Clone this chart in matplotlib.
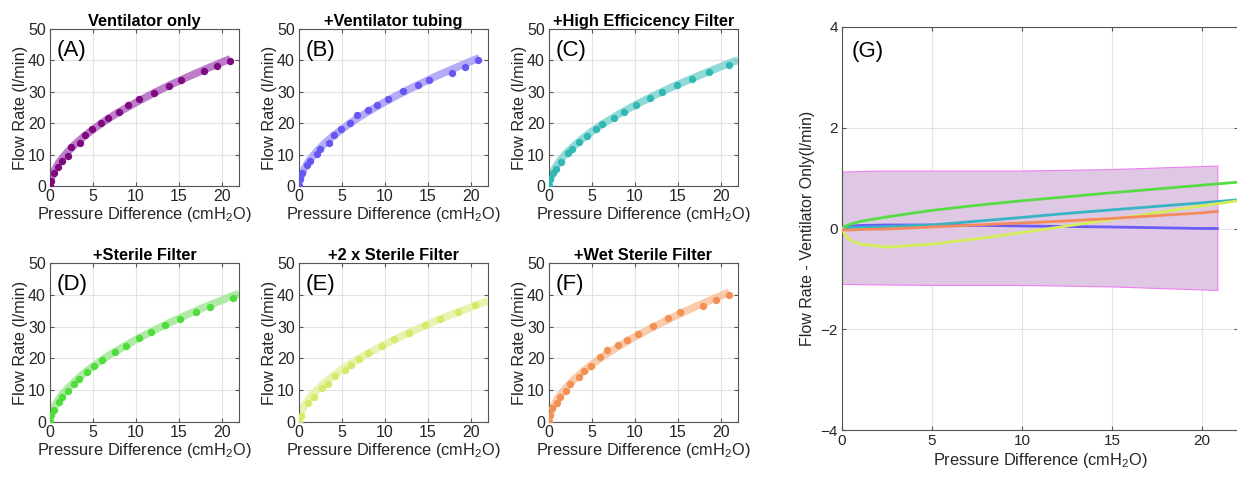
import numpy as np
import matplotlib
matplotlib.use("Agg")
import matplotlib.pyplot as plt

plt.rcParams['font.family'] = ['Liberation Sans', 'DejaVu Sans']
plt.rcParams['mathtext.default'] = 'regular'

# measured points, one list pair per panel
titles = ["Ventilator only", "+Ventilator tubing", "+High Efficicency Filter",
          "+Sterile Filter", "+2 x Sterile Filter", "+Wet Sterile Filter"]
tags = ["(A)", "(B)", "(C)", "(D)", "(E)", "(F)"]

xA = [0, 0.1, 0.46, 0.97, 1.35, 2.1, 2.5, 3.5, 4.1, 4.9, 5.9, 6.8, 8.0, 9.1, 10.4, 12.1, 13.8, 15.2, 17.9, 19.4, 20.9]
yA = [0, 1.6, 4.1, 6.2, 8.0, 9.6, 12.4, 13.6, 16.2, 18.2, 20.0, 21.8, 23.7, 25.7, 27.6, 29.7, 32.0, 33.7, 36.6, 38.2, 39.8]
xB = [0, 0.1, 0.4, 0.9, 1.3, 2.1, 2.5, 3.5, 4.1, 4.9, 5.9, 6.8, 8.0, 9.1, 10.4, 12.1, 13.8, 15.1, 17.8, 19.3, 20.8]
yB = [0, 2.3, 4.1, 6.6, 8.1, 10.3, 11.9, 13.8, 16.1, 18.3, 20.1, 22.6, 24.3, 25.8, 27.8, 30.3, 32.2, 33.8, 36.0, 38.0, 40.1]
xC = [0, 0.1, 0.5, 0.8, 1.4, 2.2, 2.7, 3.5, 4.4, 5.5, 6.2, 7.6, 8.7, 10.1, 11.8, 13.2, 14.9, 16.6, 18.6, 21.0]
yC = [0, 2.1, 4.2, 5.5, 7.7, 10.5, 11.9, 14.1, 15.9, 18.1, 19.7, 21.8, 23.7, 25.8, 28.0, 29.8, 32.1, 34.2, 36.2, 38.6]
xD = [0, 0.1, 0.5, 1.0, 1.4, 2.1, 2.8, 3.4, 4.3, 5.1, 6.1, 7.6, 8.8, 10.4, 11.8, 13.4, 15.1, 17.0, 18.6, 21.3]
yD = [0, 2.2, 3.9, 6.3, 7.8, 9.6, 11.9, 13.6, 15.8, 17.7, 19.6, 21.9, 23.8, 26.5, 28.4, 30.4, 32.3, 34.5, 36.3, 38.9]
xE = [0, 0.2, 1.1, 1.7, 2.7, 3.4, 4.2, 5.3, 6.1, 7.0, 8.0, 9.7, 11.1, 12.8, 14.7, 16.4, 18.5, 20.5]
yE = [0, 1.9, 5.9, 8.0, 10.6, 12.1, 14.4, 16.5, 18.0, 19.8, 21.7, 24.0, 26.0, 27.9, 30.5, 32.5, 34.6, 36.7]
xF = [0, 0.1, 0.4, 0.9, 1.3, 2.0, 2.4, 3.5, 4.1, 4.9, 5.9, 6.8, 8.0, 9.1, 10.4, 12.1, 13.9, 15.2, 17.9, 19.4, 20.9]
yF = [0, 2.2, 4.4, 6.1, 8.0, 9.7, 12.1, 14.0, 15.9, 17.7, 20.4, 22.5, 24.2, 25.9, 27.7, 30.1, 32.6, 34.7, 36.6, 38.5, 39.9]

# fitted curves
xfit = [0, 0.05, 0.2, 0.5, 1, 1.5, 2, 3, 4, 5, 6, 7, 8, 10, 12, 14, 16, 18, 20, 21, 22]
fA = [0, 1.3, 2.9, 4.9, 7.3, 9.1, 10.7, 13.5, 15.9, 18.0, 20.0, 21.8, 23.5, 26.6, 29.5, 32.2, 34.7, 37.1, 39.4, 40.5]
fB = [0, 1.3, 2.9, 4.9, 7.3, 9.2, 10.8, 13.6, 16.0, 18.1, 20.1, 21.9, 23.6, 26.8, 29.7, 32.4, 35.0, 37.4, 39.7, 40.8]
fC = [0, 1.3, 2.8, 4.7, 7.0, 8.8, 10.4, 13.0, 15.3, 17.4, 19.3, 21.0, 22.7, 25.7, 28.5, 31.1, 33.5, 35.8, 38.0, 39.1, 40.1]
fD = [0, 1.3, 2.8, 4.8, 7.1, 8.9, 10.4, 13.1, 15.4, 17.5, 19.4, 21.2, 22.8, 25.9, 28.7, 31.3, 33.8, 36.1, 38.3, 39.4, 40.4]
fE = [0, 1.2, 2.7, 4.5, 6.7, 8.4, 9.8, 12.4, 14.6, 16.5, 18.3, 20.0, 21.5, 24.4, 27.1, 29.5, 31.9, 34.0, 36.1, 37.1, 38.1]
fF = [0, 1.3, 2.9, 4.9, 7.3, 9.2, 10.8, 13.6, 16.0, 18.1, 20.1, 21.9, 23.6, 26.8, 29.7, 32.4, 35.0, 37.4, 39.7, 40.8]

dot_cols = ["#7e0a80", "#6657f2", "#32b8b4", "#4fdc3c", "#d2ec6a", "#f39054"]
band_cols = ["#b266c0", "#a69ef5", "#7fd4d1", "#a2e896", "#e4f2a2", "#f7c29c"]

# panel G: difference from ventilator-only
xg = [0, 0.2, 0.5, 1, 2.5, 5, 8, 10, 12.5, 15, 20, 22]
gB = [0.02, 0.04, 0.05, 0.06, 0.07, 0.07, 0.06, 0.05, 0.04, 0.03, 0.0, 0.0]
gC = [0.0, 0.01, 0.02, 0.02, 0.04, 0.07, 0.16, 0.22, 0.30, 0.37, 0.51, 0.57]
gD = [0.0, 0.05, 0.09, 0.14, 0.23, 0.36, 0.48, 0.55, 0.63, 0.71, 0.86, 0.92]
gE = [0.0, -0.15, -0.24, -0.31, -0.37, -0.31, -0.18, -0.08, 0.05, 0.18, 0.45, 0.55]
gF = [-0.03, -0.03, -0.03, -0.02, -0.01, 0.03, 0.08, 0.11, 0.15, 0.20, 0.31, 0.34]
xband = [0, 2, 5, 10, 15, 20.85]
band_hi = [1.13, 1.15, 1.15, 1.15, 1.18, 1.25]
band_lo = [-1.10, -1.11, -1.12, -1.12, -1.15, -1.22]

txt = "#262626"
fig = plt.figure(figsize=(12.37, 4.8), dpi=100)

pts = [(xA, yA), (xB, yB), (xC, yC), (xD, yD), (xE, yE), (xF, yF)]
fits = [fA, fB, fC, fD, fE, fF]
lefts = [50, 299, 549]
for i in range(6):
    r, c = divmod(i, 3)
    if r == 0:
        rect = [lefts[c] / 1237, 1 - 186 / 480, 189 / 1237, 157 / 480]
    else:
        rect = [lefts[c] / 1237, 1 - 422 / 480, 189 / 1237, 159 / 480]
    ax = fig.add_axes(rect)
    f = fits[i]
    ax.plot(xfit[:len(f)], f, color=band_cols[i], lw=5.5, alpha=0.85,
            solid_capstyle='butt', zorder=2)
    ax.plot(pts[i][0], pts[i][1], 'o', color=dot_cols[i], ms=5.3, mec='none', zorder=3)
    ax.set_xlim(0, 22)
    ax.set_ylim(0, 50)
    ax.set_xticks([0, 5, 10, 15, 20])
    ax.set_yticks([0, 10, 20, 30, 40, 50])
    ax.grid(True, color="#e3e3e3", lw=0.8)
    ax.set_axisbelow(True)
    ax.tick_params(direction='in', top=True, right=True, length=3, labelsize=11.5,
                   colors="#555555", labelcolor=txt)
    ax.tick_params(axis='x', pad=2)
    ax.tick_params(axis='y', pad=3)
    for s in ax.spines.values():
        s.set_color("#555555")
        s.set_linewidth(0.8)
    ax.set_title(titles[i], fontsize=11.8, fontweight='bold', color="black", pad=2)
    ax.set_xlabel("Pressure Difference (cmH$_2$O)", fontsize=11.8, color=txt, labelpad=1)
    ax.set_ylabel("Flow Rate (l/min)", fontsize=11.8, color=txt, labelpad=0)
    ax.text(0.035, 0.93, tags[i], transform=ax.transAxes, fontsize=16, va='top', ha='left')

axg = fig.add_axes([842 / 1237, 1 - 430 / 480, 396 / 1237, 403 / 480])
axg.fill_between(xband, band_lo, band_hi, color="#dfc8e3", edgecolor="#ee80ee", lw=0.8, zorder=2)
axg.plot(xg[:-1] + [20.85], gB[:-1] + [0.0], color="#6a5cf5", lw=2, zorder=3)
axg.plot(xg, gC, color="#38b4c4", lw=2, zorder=3)
axg.plot(xg, gD, color="#58dc46", lw=2, zorder=3)
axg.plot(xg, gE, color="#d4ee5a", lw=2, zorder=3)
axg.plot(xg[:-1] + [20.85], gF[:-1] + [0.34], color="#f58b5c", lw=2, zorder=4)
axg.set_xlim(0, 22)
axg.set_ylim(-4, 4)
axg.set_xticks([0, 5, 10, 15, 20])
axg.set_yticks([-4, -2, 0, 2, 4])
axg.grid(True, color="#e3e3e3", lw=0.8)
axg.set_axisbelow(True)
axg.tick_params(direction='in', top=True, right=True, length=3, labelsize=11,
                colors="#555555", labelcolor=txt, pad=3)
for s in axg.spines.values():
    s.set_color("#555555")
    s.set_linewidth(0.8)
axg.set_xlabel("Pressure Difference (cmH$_2$O)", fontsize=11.8, color=txt, labelpad=2)
axg.set_ylabel("Flow Rate - Ventilator Only(l/min)", fontsize=11.5, color=txt, labelpad=4)
axg.text(0.025, 0.965, "(G)", transform=axg.transAxes, fontsize=16, va='top', ha='left')

fig.savefig("out.png", dpi=100)
